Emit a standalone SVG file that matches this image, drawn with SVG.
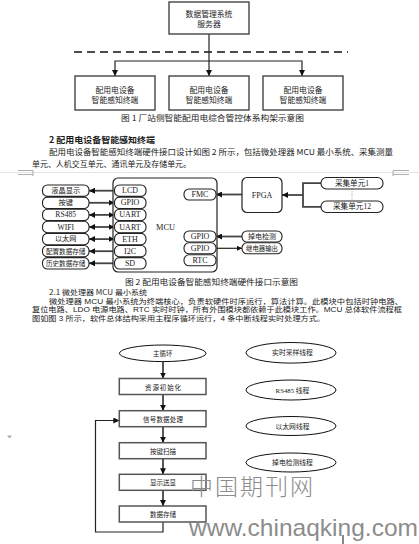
<svg xmlns="http://www.w3.org/2000/svg" width="419" height="544" viewBox="0 0 419 544">
<style>
.t{font-family:"Liberation Serif","Noto Sans CJK SC",serif;fill:#1a1a1a;dominant-baseline:central}
.s{font-family:"Noto Sans CJK SC","Liberation Sans",sans-serif;fill:#1a1a1a;dominant-baseline:central}
.p{font-family:"Liberation Sans","Noto Sans CJK SC",sans-serif;fill:#1a1a1a;dominant-baseline:central}
.box1{fill:#fff;stroke:#444;stroke-width:1.4}
.pill{fill:#fff;stroke:#222;stroke-width:1.1}
.ln{fill:none;stroke:#222;stroke-width:1.2}
.ln2{fill:none;stroke:#444;stroke-width:1.8}
.fb{fill:#fff;stroke:#555;stroke-width:1.5}
.el{fill:#fff;stroke:#111;stroke-width:1}
</style>
<defs>
<marker id="ah" viewBox="0 0 10 10" refX="10" refY="5" markerUnits="userSpaceOnUse" markerWidth="6" markerHeight="6" orient="auto-start-reverse"><path d="M0,0 L10,5 L0,10 z" fill="#111"/></marker>
<marker id="ah2" viewBox="0 0 10 10" refX="10" refY="5" markerUnits="userSpaceOnUse" markerWidth="5" markerHeight="5" orient="auto-start-reverse"><path d="M0,0 L10,5 L0,10 z" fill="#111"/></marker>
</defs>
<rect width="419" height="544" fill="#fff"/>

<!-- Figure 1 -->
<g id="f1-connectors">
<line x1="74" y1="52" x2="348" y2="52" stroke="#111" stroke-width="1.3" stroke-dasharray="8,5"/>
<line class="ln" x1="209" y1="34" x2="209" y2="76" marker-end="url(#ah)"/>
<polyline class="ln" points="115,76 115,61 302,61 302,76" marker-start="url(#ah)" marker-end="url(#ah)"/>
</g>
<g id="server">
<rect class="box1" x="169" y="2" width="80" height="32"/>
<text class="s" x="209" y="13.5" font-size="7.8" text-anchor="middle">数据管理系统</text>
<text class="s" x="209" y="23.5" font-size="7.8" text-anchor="middle">服务器</text>
</g>
<g id="term1">
<rect class="box1" x="75" y="76" width="80" height="34"/>
<text class="s" x="115" y="89.2" font-size="7.8" text-anchor="middle">配用电设备</text>
<text class="s" x="115" y="99.2" font-size="7.8" text-anchor="middle">智能感知终端</text>
</g>
<g id="term2">
<rect class="box1" x="169" y="76" width="80" height="34"/>
<text class="s" x="209" y="89.2" font-size="7.8" text-anchor="middle">配用电设备</text>
<text class="s" x="209" y="99.2" font-size="7.8" text-anchor="middle">智能感知终端</text>
</g>
<g id="term3">
<rect class="box1" x="263" y="76" width="80" height="34"/>
<text class="s" x="303" y="89.2" font-size="7.8" text-anchor="middle">配用电设备</text>
<text class="s" x="303" y="99.2" font-size="7.8" text-anchor="middle">智能感知终端</text>
</g>
<text class="s" x="121" y="117.5" font-size="7.6" textLength="183" lengthAdjust="spacingAndGlyphs">图 1   厂站侧智能配用电综合管控体系构架示意图</text>

<!-- Section text -->
<text class="s" x="49" y="139" font-size="8.3" font-weight="bold" textLength="106" lengthAdjust="spacingAndGlyphs">2   配用电设备智能感知终端</text>
<text class="s" x="49" y="151" font-size="8.2" textLength="344" lengthAdjust="spacingAndGlyphs">配用电设备智能感知终端硬件接口设计如图 2 所示，包括微处理器 MCU 最小系统、采集测量</text>
<text class="s" x="32" y="163.3" font-size="8.2" textLength="159" lengthAdjust="spacingAndGlyphs">单元、人机交互单元、通讯单元及存储单元。</text>

<!-- page break marks -->
<g id="page-break" fill="none" stroke="#999" stroke-width="0.8">
<line x1="0" y1="172.5" x2="419" y2="172.5" stroke="#ddd"/>
<polyline points="18,170.5 33,170.5 33,176"/>
<line x1="18" y1="174.5" x2="33" y2="174.5"/>
<polyline points="409,170.5 393,170.5 393,176"/>
<line x1="409" y1="174.5" x2="393" y2="174.5"/>
</g>

<!-- Figure 2 -->
<g id="f2-connectors">
<line class="ln2" x1="114.5" y1="190.7" x2="89" y2="190.7" marker-end="url(#ah)"/>
<line class="ln2" x1="89" y1="202.8" x2="114.5" y2="202.8" marker-end="url(#ah)"/>
<line class="ln2" x1="89" y1="214.9" x2="114.5" y2="214.9" marker-start="url(#ah)" marker-end="url(#ah)"/>
<line class="ln2" x1="89" y1="227" x2="114.5" y2="227" marker-start="url(#ah)" marker-end="url(#ah)"/>
<line class="ln2" x1="89" y1="239.1" x2="114.5" y2="239.1" marker-start="url(#ah)" marker-end="url(#ah)"/>
<line class="ln2" x1="114.5" y1="251.2" x2="89" y2="251.2" marker-end="url(#ah)"/>
<line class="ln2" x1="114.5" y1="263.3" x2="89" y2="263.3" marker-end="url(#ah)"/>
<line class="ln2" x1="242" y1="194.5" x2="216" y2="194.5" marker-end="url(#ah)"/>
<polyline class="ln2" points="321,183.2 303,183.2 303,206.8 321,206.8"/>
<line class="ln2" x1="303" y1="195" x2="282" y2="195" marker-end="url(#ah)"/>
<line x1="352" y1="189" x2="352" y2="201" stroke="#888" stroke-width="0.8" stroke-dasharray="1,1.5"/>
<line class="ln2" x1="242" y1="236.5" x2="216" y2="236.5" marker-end="url(#ah)"/>
<line class="ln" x1="216" y1="248.3" x2="242" y2="248.3" marker-end="url(#ah2)"/>
</g>
<g id="mcu">
<rect x="113" y="178" width="104" height="94" rx="5" fill="#fff" stroke="#222" stroke-width="1.2"/>
<text class="t" x="165.5" y="227" font-size="8.3" text-anchor="middle">MCU</text>
</g>
<g id="mcu-ports-left">
<rect class="pill" x="114.5" y="185" width="31.5" height="11.4" rx="5"/><text class="t" x="130" y="190.7" font-size="8" text-anchor="middle">LCD</text>
<rect class="pill" x="114.5" y="197.1" width="31.5" height="11.4" rx="5"/><text class="t" x="130" y="202.8" font-size="8" text-anchor="middle">GPIO</text>
<rect class="pill" x="114.5" y="209.2" width="31.5" height="11.4" rx="5"/><text class="t" x="130" y="214.9" font-size="8" text-anchor="middle">UART</text>
<rect class="pill" x="114.5" y="221.3" width="31.5" height="11.4" rx="5"/><text class="t" x="130" y="227" font-size="8" text-anchor="middle">UART</text>
<rect class="pill" x="114.5" y="233.4" width="31.5" height="11.4" rx="5"/><text class="t" x="130" y="239.1" font-size="8" text-anchor="middle">ETH</text>
<rect class="pill" x="114.5" y="245.5" width="31.5" height="11.4" rx="5"/><text class="t" x="130" y="251.2" font-size="8" text-anchor="middle">I2C</text>
<rect class="pill" x="114.5" y="257.6" width="31.5" height="11.4" rx="5"/><text class="t" x="130" y="263.3" font-size="8" text-anchor="middle">SD</text>
</g>
<g id="mcu-ports-right">
<rect class="pill" x="184" y="189" width="32" height="11" rx="5"/><text class="t" x="200" y="194.5" font-size="8" text-anchor="middle">FMC</text>
<rect class="pill" x="184" y="231" width="32" height="11" rx="5"/><text class="t" x="200" y="236.5" font-size="8" text-anchor="middle">GPIO</text>
<rect class="pill" x="184" y="242.8" width="32" height="11" rx="5"/><text class="t" x="200" y="248.3" font-size="8" text-anchor="middle">GPIO</text>
<rect class="pill" x="184" y="254.8" width="32" height="11" rx="5"/><text class="t" x="200" y="260.3" font-size="8" text-anchor="middle">RTC</text>
</g>
<g id="lcd-disp"><rect class="pill" x="42.5" y="185" width="46.5" height="11.4" rx="5"/><text class="t" x="65.7" y="190.7" font-size="7.2" text-anchor="middle">液晶显示</text></g>
<g id="keys"><rect class="pill" x="42.5" y="197.1" width="46.5" height="11.4" rx="5"/><text class="t" x="65.7" y="202.8" font-size="7.2" text-anchor="middle">按键</text></g>
<g id="rs485"><rect class="pill" x="42.5" y="209.2" width="46.5" height="11.4" rx="5"/><text class="t" x="65.7" y="214.9" font-size="7.6" text-anchor="middle">RS485</text></g>
<g id="wifi"><rect class="pill" x="42.5" y="221.3" width="46.5" height="11.4" rx="5"/><text class="t" x="65.7" y="227" font-size="7.6" text-anchor="middle">WIFI</text></g>
<g id="ethernet"><rect class="pill" x="42.5" y="233.4" width="46.5" height="11.4" rx="5"/><text class="t" x="65.7" y="239.1" font-size="7.2" text-anchor="middle">以太网</text></g>
<g id="cfg-store"><rect class="pill" x="42.5" y="245.5" width="46.5" height="11.4" rx="5"/><text class="t" x="65.7" y="251.2" font-size="6.6" text-anchor="middle">配置数据存储</text></g>
<g id="hist-store"><rect class="pill" x="42.5" y="257.6" width="46.5" height="11.4" rx="5"/><text class="t" x="65.7" y="263.3" font-size="6.6" text-anchor="middle">历史数据存储</text></g>
<g id="fpga"><rect x="242" y="177.5" width="40" height="35" rx="5" fill="#fff" stroke="#222" stroke-width="1.2"/><text class="t" x="262" y="195" font-size="8" text-anchor="middle">FPGA</text></g>
<g id="acq1"><rect class="pill" x="321" y="177.5" width="62" height="11.5" rx="5.5"/><text class="t" x="352" y="183.2" font-size="7.6" text-anchor="middle">采集单元1</text></g>
<g id="acq12"><rect class="pill" x="321" y="201" width="62" height="11.5" rx="5.5"/><text class="t" x="352" y="206.8" font-size="7.6" text-anchor="middle">采集单元12</text></g>
<g id="power-detect"><rect class="pill" x="242" y="231" width="40" height="11" rx="5"/><text class="t" x="262" y="236.5" font-size="7" text-anchor="middle">掉电检测</text></g>
<g id="relay-out"><rect class="pill" x="242" y="242.8" width="40" height="11" rx="5"/><text class="t" x="262" y="248.3" font-size="6.4" text-anchor="middle">继电器输出</text></g>
<text class="s" x="125" y="281" font-size="7.6" textLength="173" lengthAdjust="spacingAndGlyphs">图 2   配用电设备智能感知终端硬件接口示意图</text>

<!-- 2.1 text -->
<text class="s" x="49" y="291.7" font-size="7.2" textLength="98" lengthAdjust="spacingAndGlyphs">2.1  微处理器 MCU 最小系统</text>
<text class="p" x="49" y="301.3" font-size="7.2" textLength="354" lengthAdjust="spacingAndGlyphs">微处理器 MCU 最小系统为终端核心，负责软硬件时序运行，算法计算。此模块中包括时钟电路、</text>
<text class="p" x="32" y="309.9" font-size="7.2" textLength="370" lengthAdjust="spacingAndGlyphs">复位电路、LDO 电源电路、RTC 实时时钟，所有外围模块都依赖于此模块工作。MCU 总体软件流程框</text>
<text class="p" x="32" y="318.5" font-size="7.2" textLength="293" lengthAdjust="spacingAndGlyphs">图如图 3 所示，软件总体结构采用主程序循环运行，4 条中断线程实时处理方式。</text>

<!-- Figure 3 -->
<g id="f3-connectors">
<line class="ln2" x1="163" y1="361.6" x2="163" y2="378.5" stroke="#111" marker-end="url(#ah)"/>
<line class="ln2" x1="163" y1="394.5" x2="163" y2="410.7" stroke="#111" marker-end="url(#ah)"/>
<line class="ln2" x1="163" y1="426.7" x2="163" y2="442.7" stroke="#111" marker-end="url(#ah)"/>
<line class="ln2" x1="163" y1="458.7" x2="163" y2="474.3" stroke="#111" marker-end="url(#ah)"/>
<line class="ln2" x1="163" y1="490.3" x2="163" y2="506" stroke="#111" marker-end="url(#ah)"/>
<polyline class="ln" points="163,522 163,532 95.5,532 95.5,420.5 119.3,420.5" marker-end="url(#ah)"/>
</g>
<g id="main-loop"><ellipse class="el" cx="162.7" cy="353.3" rx="43.3" ry="8.3"/><text class="s" x="162.7" y="353.3" font-size="6.5" text-anchor="middle">主循环</text></g>
<g id="init"><rect class="fb" x="119.3" y="378.5" width="86.7" height="16"/><text class="s" x="163" y="386.5" font-size="6.5" text-anchor="middle" textLength="36" lengthAdjust="spacing">资源初始化</text></g>
<g id="signal"><rect class="fb" x="119.3" y="410.7" width="86.7" height="16"/><text class="s" x="163" y="418.7" font-size="6.5" text-anchor="middle" textLength="40" lengthAdjust="spacing">信号数据处理</text></g>
<g id="keyscan"><rect class="fb" x="119.3" y="442.7" width="86.7" height="16"/><text class="s" x="163" y="450.7" font-size="6.5" text-anchor="middle">按键扫描</text></g>
<g id="display"><rect class="fb" x="119.3" y="474.3" width="86.7" height="16"/><text class="s" x="163" y="482.3" font-size="6.5" text-anchor="middle">显示送显</text></g>
<g id="datastore"><rect class="fb" x="119.3" y="506" width="86.7" height="16"/><text class="s" x="163" y="514" font-size="6.5" text-anchor="middle">数据存储</text></g>
<g id="th-sample"><ellipse class="el" cx="291" cy="352.8" rx="45" ry="10.3"/><text class="t" x="292.5" y="352.8" font-size="6.8" text-anchor="middle">实时采样线程</text></g>
<g id="th-rs485"><ellipse class="el" cx="291" cy="390" rx="45" ry="10"/><text class="t" x="292.5" y="390" font-size="6.8" text-anchor="middle">RS485 线程</text></g>
<g id="th-eth"><ellipse class="el" cx="291" cy="426" rx="45" ry="9.5"/><text class="t" x="292.5" y="426" font-size="6.8" text-anchor="middle">以太网线程</text></g>
<g id="th-power"><ellipse class="el" cx="291" cy="462.5" rx="45" ry="9.5"/><text class="t" x="292.5" y="462.5" font-size="6.8" text-anchor="middle">掉电检测线程</text></g>

<!-- marks & watermark -->
<polygon points="7,435.5 12,435.5 9.5,438.5" fill="#aaa"/>
<text x="190" y="495" font-family="Noto Sans CJK SC, sans-serif" font-size="23" font-weight="300" fill="#8c8c8c" textLength="123" lengthAdjust="spacing">中国期刊网</text>
<text x="189" y="535.5" font-family="Liberation Sans, sans-serif" font-size="24" fill="#8c8c8c" textLength="229" lengthAdjust="spacingAndGlyphs">www.chinaqking.com</text>
<line x1="343" y1="535" x2="343" y2="544" stroke="#111" stroke-width="1"/>
</svg>
